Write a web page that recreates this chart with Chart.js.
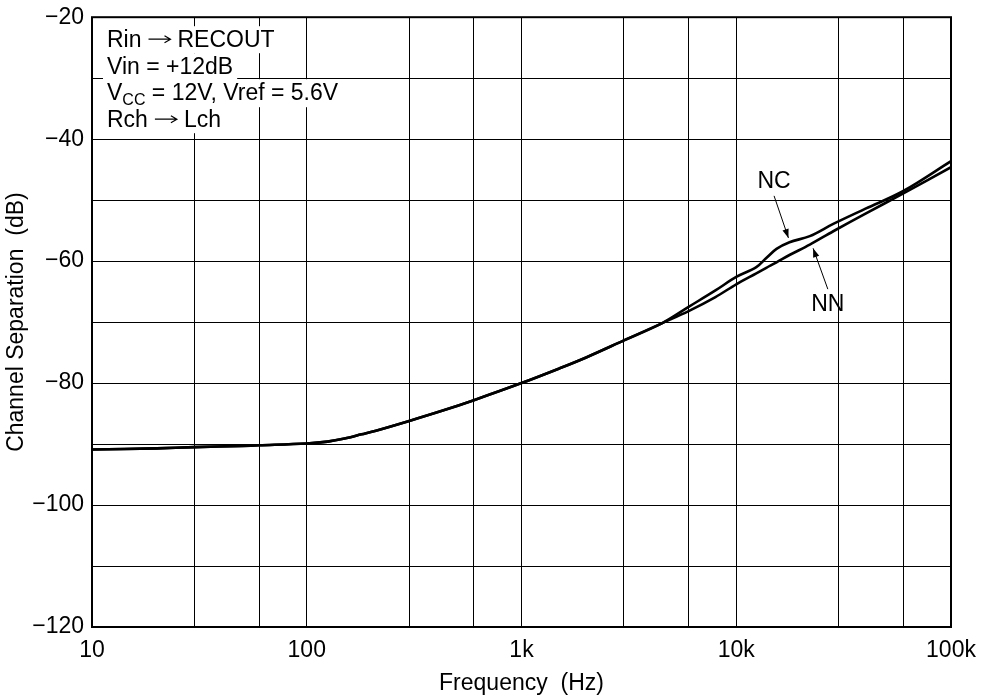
<!DOCTYPE html>
<html>
<head>
<meta charset="utf-8">
<script src="https://cdn.jsdelivr.net/npm/chart.js@4/dist/chart.umd.min.js"></script>
<style>
  body { margin: 0; background: #fff; }
  #wrap { width: 986px; height: 700px; }
</style>
</head>
<body>
<div id="wrap"><canvas id="sepChart" width="986" height="700"></canvas></div>
<script>
// ---- data ----
const freqs = [10, 20, 30, 50, 60, 100, 125, 150, 180, 210, 300, 430, 600, 1000, 1500, 2000, 3000,
  4500, 6000, 8000, 10000, 12400, 13800, 15400, 17700, 22000, 28300, 40000, 60000, 100000];
const ncValues = [-90.9, -90.7, -90.5, -90.3, -90.2, -89.9, -89.6, -89.1, -88.4, -87.8, -86.2, -84.5, -82.8,
  -80.0, -77.6, -75.8, -73.0, -70.2, -67.5, -64.8, -62.6, -61.0, -59.5, -58.0, -56.9, -55.9, -53.9,
  -51.4, -48.5, -43.6];
const nnValues = [-90.9, -90.7, -90.5, -90.3, -90.2, -89.9, -89.6, -89.1, -88.4, -87.8, -86.2, -84.5, -82.8,
  -80.0, -77.6, -75.8, -73.0, -70.2, -68.2, -65.9, -63.8, -62.0, -61.1, -60.2, -59.0, -57.3, -55.1,
  -52.2, -48.9, -44.6];

const xGridValues = [10, 30, 60, 100, 300, 600, 1000, 3000, 6000, 10000, 30000, 60000, 100000];
const xLabelValues = [10, 100, 1000, 10000, 100000];
const xLabelTexts = ["10", "100", "1k", "10k", "100k"];

const infoLines = ["Rin \u2192 RECOUT", "Vin = +12dB", "VCC = 12V, Vref = 5.6V", "Rch \u2192 Lch"];

const FONT = "'Liberation Sans', Arial, Helvetica, sans-serif";

function toPoints(vals) {
  return freqs.map((f, i) => ({ x: f, y: vals[i] }));
}

function arrow(ctx, x1, y1, x2, y2) {
  ctx.beginPath();
  ctx.moveTo(x1, y1);
  ctx.lineTo(x2, y2);
  ctx.lineWidth = 1;
  ctx.strokeStyle = "#000";
  ctx.stroke();
  const ang = Math.atan2(y2 - y1, x2 - x1);
  const len = 9, half = 3.2;
  ctx.beginPath();
  ctx.moveTo(x2, y2);
  ctx.lineTo(x2 - len * Math.cos(ang) + half * Math.sin(ang), y2 - len * Math.sin(ang) - half * Math.cos(ang));
  ctx.lineTo(x2 - len * Math.cos(ang) - half * Math.sin(ang), y2 - len * Math.sin(ang) + half * Math.cos(ang));
  ctx.closePath();
  ctx.fillStyle = "#000";
  ctx.fill();
}

// draws one info line, returns its width; "→" drawn as a thin line arrow, "VCC" gets a subscript
function drawInfoLine(ctx, line, x, by, measureOnly) {
  let cx = x;
  const big = "23px " + FONT, small = "16px " + FONT;
  const put = (txt, font, dy) => {
    ctx.font = font;
    if (!measureOnly) ctx.fillText(txt, cx, by + dy);
    cx += ctx.measureText(txt).width;
  };
  const parts = line.split(" \u2192 ");
  parts.forEach((p, k) => {
    if (k > 0) {
      const ax = cx + 7, ay = by - 8, aw = 22;
      if (!measureOnly) {
        ctx.beginPath();
        ctx.moveTo(ax, ay); ctx.lineTo(ax + aw, ay);
        ctx.moveTo(ax + aw - 6, ay - 3.5); ctx.lineTo(ax + aw, ay); ctx.lineTo(ax + aw - 6, ay + 3.5);
        ctx.lineWidth = 1.2;
        ctx.strokeStyle = "#000";
        ctx.stroke();
      }
      cx += aw + 14;
    }
    if (p.startsWith("VCC")) {
      put("V", big, 0);
      put("CC", small, 5);
      put(p.slice(3), big, 0);
    } else {
      put(p, big, 0);
    }
  });
  return cx - x;
}

/* ===== annotations + frame ===== */
const annotate = {
  id: "annotate",
  afterDraw(chart) {
    const ctx = chart.ctx;
    const a = chart.chartArea;
    const xs = chart.scales.x, ys = chart.scales.y;
    ctx.save();

    // text block, each line knocked out on white
    ctx.textBaseline = "alphabetic";
    ctx.textAlign = "left";
    const left = a.left + 15;
    const baselines = [30, 57, 83, 110];
    infoLines.forEach((line, i) => {
      const by = a.top + baselines[i];
      const w = drawInfoLine(ctx, line, left, by, true);
      ctx.fillStyle = "#fff";
      ctx.fillRect(left - 4, by - 21, w + 8, i === 2 ? 28 : 27);
      ctx.fillStyle = "#000";
      drawInfoLine(ctx, line, left, by, false);
    });

    // curve labels
    ctx.font = "23px " + FONT;
    ctx.textAlign = "center";
    ctx.textBaseline = "middle";
    ctx.fillStyle = "#000";
    ctx.fillText("NC", xs.getPixelForValue(15000), ys.getPixelForValue(-47.0));
    arrow(ctx, xs.getPixelForValue(15000), ys.getPixelForValue(-49.3),
      xs.getPixelForValue(17500), ys.getPixelForValue(-56.2));
    ctx.fillText("NN", xs.getPixelForValue(26700), ys.getPixelForValue(-67.2));
    arrow(ctx, xs.getPixelForValue(26700), ys.getPixelForValue(-64.6),
      xs.getPixelForValue(22800), ys.getPixelForValue(-57.9));

    // frame
    ctx.lineWidth = 2;
    ctx.strokeStyle = "#000";
    ctx.strokeRect(a.left, a.top, a.right - a.left, a.bottom - a.top);
    ctx.restore();
  }
};

new Chart(document.getElementById("sepChart"), {
  type: "line",
  data: {
    datasets: [
      { label: "NC", data: toPoints(ncValues) },
      { label: "NN", data: toPoints(nnValues) }
    ]
  },
  options: {
    responsive: false,
    animation: false,
    layout: { padding: { top: 16, right: 35, bottom: 0, left: 0 } },
    elements: {
      point: { radius: 0 },
      line: { borderColor: "#000", borderWidth: 2.6, tension: 0.35, fill: false }
    },
    plugins: { legend: { display: false }, tooltip: { enabled: false } },
    scales: {
      x: {
        type: "logarithmic",
        min: 10,
        max: 100000,
        afterBuildTicks: s => { s.ticks = xGridValues.map(v => ({ value: v })); },
        afterFit: s => { s.height = 73; },
        grid: { color: "#000", lineWidth: 1, drawTicks: false },
        border: { display: false },
        ticks: {
          autoSkip: false,
          maxRotation: 0,
          padding: 10,
          color: "#000",
          font: { family: FONT, size: 23 },
          callback: v => {
            const i = xLabelValues.indexOf(v);
            return i >= 0 ? xLabelTexts[i] : "";
          }
        },
        title: {
          display: true,
          text: "Frequency  (Hz)",
          color: "#000",
          font: { family: FONT, size: 23 },
          padding: { top: 0, bottom: 3 }
        }
      },
      y: {
        min: -120,
        max: -20,
        afterFit: s => { s.width = 92; },
        grid: { color: "#000", lineWidth: 1, drawTicks: false },
        border: { display: false },
        ticks: {
          stepSize: 10,
          autoSkip: false,
          padding: 8,
          color: "#000",
          font: { family: FONT, size: 23, lineHeight: 0.8 },
          callback: v => (v % 20 === 0 ? "\u2212" + Math.abs(v) : "")
        },
        title: {
          display: true,
          text: "Channel Separation  (dB)",
          color: "#000",
          font: { family: FONT, size: 23 },
          padding: { top: 3, bottom: 0 }
        }
      }
    }
  },
  plugins: [annotate]
});
</script>
</body>
</html>
